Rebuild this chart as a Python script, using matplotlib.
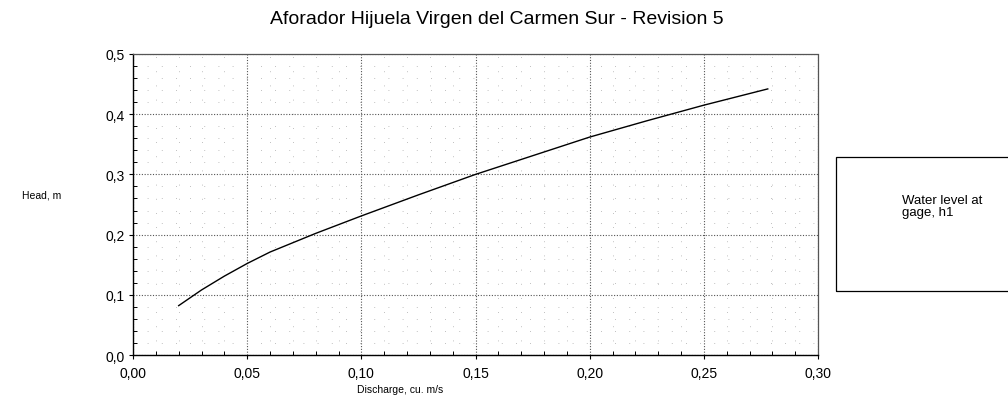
import matplotlib
matplotlib.use("Agg")
import matplotlib.pyplot as plt
from matplotlib.ticker import MultipleLocator, FuncFormatter
from matplotlib.patches import Rectangle

# Data
discharge = [0.02, 0.03, 0.04, 0.05, 0.06, 0.08, 0.10, 0.125, 0.15, 0.175, 0.20, 0.225, 0.25, 0.278]
head = [0.082, 0.108, 0.131, 0.152, 0.171, 0.202, 0.231, 0.266, 0.300, 0.331, 0.362, 0.389, 0.415, 0.442]
series_label = "Water level at\ngage, h1"
title = "Aforador Hijuela Virgen del Carmen Sur - Revision 5"
xlabel = "Discharge, cu. m/s"
ylabel = "Head, m"

plt.rcParams['font.family'] = ['Liberation Sans', 'DejaVu Sans']

fig = plt.figure(figsize=(10.08, 4.14), dpi=100)
ax = fig.add_axes([133/1008, 1 - 356/414, (818-133)/1008, (356-55)/414])

ax.plot(discharge, head, color='black', lw=1.0)

ax.set_xlim(0, 0.30)
ax.set_ylim(0, 0.5)
ax.xaxis.set_major_locator(MultipleLocator(0.05))
ax.yaxis.set_major_locator(MultipleLocator(0.1))
ax.xaxis.set_minor_locator(MultipleLocator(0.01))
ax.yaxis.set_minor_locator(MultipleLocator(0.02))
ax.xaxis.set_major_formatter(FuncFormatter(lambda v, p: f"{v:.2f}".replace('.', ',')))
ax.yaxis.set_major_formatter(FuncFormatter(lambda v, p: f"{v:.1f}".replace('.', ',')))

ax.grid(which='major', color='#555555', linestyle=(0, (1, 1.5)), lw=0.8)
ax.grid(which='minor', color='#aaaaaa', linestyle=(0, (1, 16)), lw=0.6)
ax.tick_params(which='major', direction='out', length=3, labelsize=10, colors='black')
ax.tick_params(axis='x', which='major', pad=5)
ax.tick_params(axis='y', which='major', pad=3)
ax.tick_params(which='minor', direction='in', length=3, width=0.7)

for s in ['top', 'right']:
    ax.spines[s].set_linestyle((0, (1, 1)))
    ax.spines[s].set_color('#555555')
    ax.spines[s].set_linewidth(0.9)
for s in ['left', 'bottom']:
    ax.spines[s].set_color('black')
    ax.spines[s].set_linewidth(1.0)

fig.text(497/1008, 1 - 20/414, title, ha='center', va='center', fontsize=14)
fig.text(400/1008, 1 - 390/414, xlabel, ha='center', va='center', fontsize=7.5)
fig.text(22/1008, 1 - 196/414, ylabel, ha='left', va='center', fontsize=7.5)

# legend-like box
fig.patches.append(Rectangle((836/1008, 1 - 292/414), 0.2, (292-158)/414,
                             transform=fig.transFigure, fill=False,
                             edgecolor='black', lw=0.9))
fig.text(902/1008, 1 - 207/414, series_label, ha='left', va='center',
         fontsize=9.5, linespacing=1.0)

fig.savefig("out.png", dpi=100)
